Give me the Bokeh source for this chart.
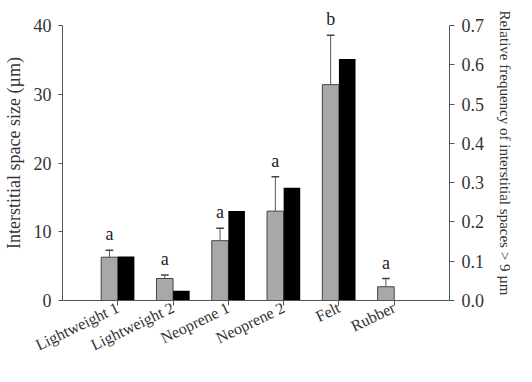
from bokeh.plotting import figure
from bokeh.models import Range1d, LinearAxis, FixedTicker, NumeralTickFormatter, ColumnDataSource, LabelSet
from bokeh.embed import file_html
from bokeh.resources import INLINE
from bokeh.core.properties import value

categories = ["Lightweight 1", "Lightweight 2", "Neoprene 1", "Neoprene 2", "Felt", "Rubber"]
size_mean = [6.3, 3.2, 8.7, 13.0, 31.4, 2.0]
size_err = [1.0, 0.5, 1.8, 5.0, 7.2, 1.2]
rel_freq = [0.112, 0.025, 0.228, 0.287, 0.615, 0.0]
letters = ["a", "a", "a", "a", "b", "a"]
left_ticks = [0, 10, 20, 30, 40]
right_ticks = [0.0, 0.1, 0.2, 0.3, 0.4, 0.5, 0.6, 0.7]

FONT = "Liberation Serif"
pos = list(range(1, len(categories) + 1))
bw = 0.30
xg = [p_ - bw / 2 for p_ in pos]
xb = [p_ + bw / 2 for p_ in pos]
err_top = [m + e for m, e in zip(size_mean, size_err)]

YMAX = 40.0 * 295 / 275
p = figure(width=516, height=366, output_backend="svg", toolbar_location=None,
           x_range=Range1d(0, 7), y_range=Range1d(0, YMAX),
           min_border_left=59, min_border_right=63, min_border_top=5, min_border_bottom=66)
p.extra_y_ranges = {"freq": Range1d(0, 0.7 * YMAX / 40)}
p.outline_line_color = None
p.xgrid.visible = False
p.ygrid.visible = False

axis_col = "#555555"
lab_col = "#333333"

p.vbar(x=xg, top=size_mean, width=bw, bottom=0, fill_color="#a8a8a8", line_color="#444444", line_width=1)
p.vbar(x=xb, top=rel_freq, width=bw, bottom=0, fill_color="black", line_color=None, y_range_name="freq")
p.segment(x0=xg, y0=size_mean, x1=xg, y1=err_top, line_color="#555555", line_width=1)
p.segment(x0=[x - 0.07 for x in xg], y0=err_top, x1=[x + 0.07 for x in xg], y1=err_top,
          line_color="#444444", line_width=1.5)
src = ColumnDataSource(dict(x=xg, y=err_top, t=letters))
p.add_layout(LabelSet(x="x", y="y", text="t", source=src, y_offset=6, text_align="center",
                      text_baseline="bottom", text_font=value(FONT), text_font_size="18px",
                      text_color="#222222"))

xa = p.xaxis[0]
xa.ticker = FixedTicker(ticks=pos)
xa.major_label_overrides = {p_: c for p_, c in zip(pos, categories)}
xa.major_label_orientation = 0.45
xa.major_tick_out = 5
xa.major_tick_in = 0
xa.minor_tick_line_color = None
xa.axis_line_color = axis_col
xa.major_tick_line_color = axis_col
xa.major_label_text_font = FONT
xa.major_label_text_font_size = "16px"
xa.major_label_text_color = lab_col
xa.major_label_standoff = 1

ya = p.yaxis[0]
ya.ticker = FixedTicker(ticks=left_ticks)
ya.bounds = (0, 40)
ya.major_tick_out = 4
ya.major_tick_in = 0
ya.minor_tick_line_color = None
ya.axis_line_color = axis_col
ya.major_tick_line_color = axis_col
ya.major_label_text_font = FONT
ya.major_label_text_font_size = "18px"
ya.major_label_text_color = lab_col
ya.major_label_standoff = 7
ya.axis_label = "Interstitial space size (µm)"
ya.axis_label_text_font = FONT
ya.axis_label_text_font_size = "18px"
ya.axis_label_text_font_style = "normal"
ya.axis_label_text_color = lab_col
ya.axis_label_standoff = 7

ra = LinearAxis(y_range_name="freq", ticker=FixedTicker(ticks=right_ticks),
                formatter=NumeralTickFormatter(format="0.0"), bounds=(0, 0.7))
ra.major_tick_out = 5
ra.major_tick_in = 0
ra.minor_tick_line_color = None
ra.axis_line_color = axis_col
ra.major_tick_line_color = axis_col
ra.major_label_text_font = FONT
ra.major_label_text_font_size = "18px"
ra.major_label_text_color = lab_col
ra.major_label_standoff = 7
ra.axis_label = "Relative frequency of interstitial spaces > 9 µm"
ra.axis_label_text_font = FONT
ra.axis_label_text_font_size = "15px"
ra.axis_label_text_font_style = "normal"
ra.axis_label_text_color = lab_col
ra.axis_label_standoff = 10
p.add_layout(ra, "right")

open("out.html", "w").write(file_html(p, INLINE))
